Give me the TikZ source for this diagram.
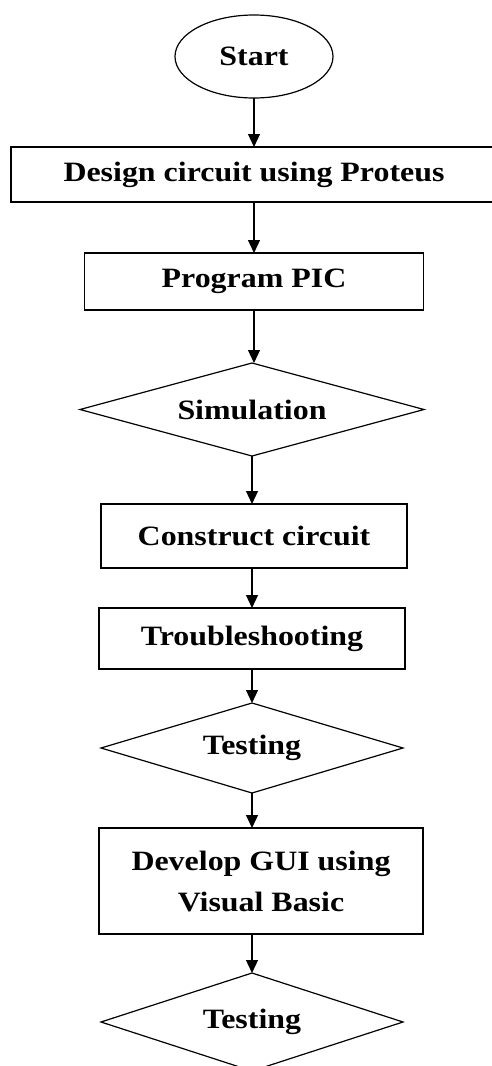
\documentclass[tikz,border=0pt]{standalone}
\usepackage{fontspec}
\setmainfont{Liberation Serif}[FakeStretch=1.14]
\usetikzlibrary{shapes.geometric,arrows.meta}
\tikzset{
  base/.style={draw=black, line width=1.2pt, inner sep=0pt, outer sep=0pt, font=\fontsize{28}{41}\selectfont\bfseries, align=center},
  procbox/.style={base, rectangle},
  decbox/.style={base, diamond},
  termbox/.style={base, ellipse},
  arr/.style={line width=1.2pt, -{Triangle[length=13pt,width=12pt]}}
}
\begin{document}
\begin{tikzpicture}[x=1pt,y=-1pt]
\useasboundingbox (0,0) rectangle (492,1066);
\node[termbox, minimum width=158pt, minimum height=83pt] (start) at (254,56.5) {Start};
\node[procbox, minimum width=486pt, minimum height=55pt] (design) at (254,174.5) {Design circuit using Proteus};
\node[procbox, minimum width=339pt, minimum height=57pt] (program) at (254,281.5) {Program PIC};
\node[decbox, shape aspect=3.7, minimum width=344pt, minimum height=93pt] (sim) at (252,409.5) {Simulation};
\node[procbox, minimum width=306pt, minimum height=64pt] (construct) at (254,536) {Construct circuit};
\node[procbox, minimum width=306pt, minimum height=61pt] (trouble) at (252,638.5) {Troubleshooting};
\node[decbox, shape aspect=3.36, minimum width=302pt, minimum height=90pt] (test1) at (252,748) {Testing};
\node[procbox, minimum width=324pt, minimum height=106pt] (develop) at (261,881) {Develop GUI using\\Visual Basic};
\node[decbox, shape aspect=3.08, minimum width=302pt, minimum height=98pt] (test2) at (252,1022) {Testing};
\draw[arr] (start.south) -- (start.south |- design.north);
\draw[arr] (design.south -| start.south) -- (start.south |- program.north);
\draw[arr] (program.south -| start.south) -- (start.south |- sim.north);
\draw[arr] (sim.south) -- (sim.south |- construct.north);
\draw[arr] (construct.south -| sim.south) -- (sim.south |- trouble.north);
\draw[arr] (trouble.south -| test1.north) -- (test1.north);
\draw[arr] (test1.south) -- (test1.south |- develop.north);
\draw[arr] (develop.south -| test2.north) -- (test2.north);
\end{tikzpicture}
\end{document}
